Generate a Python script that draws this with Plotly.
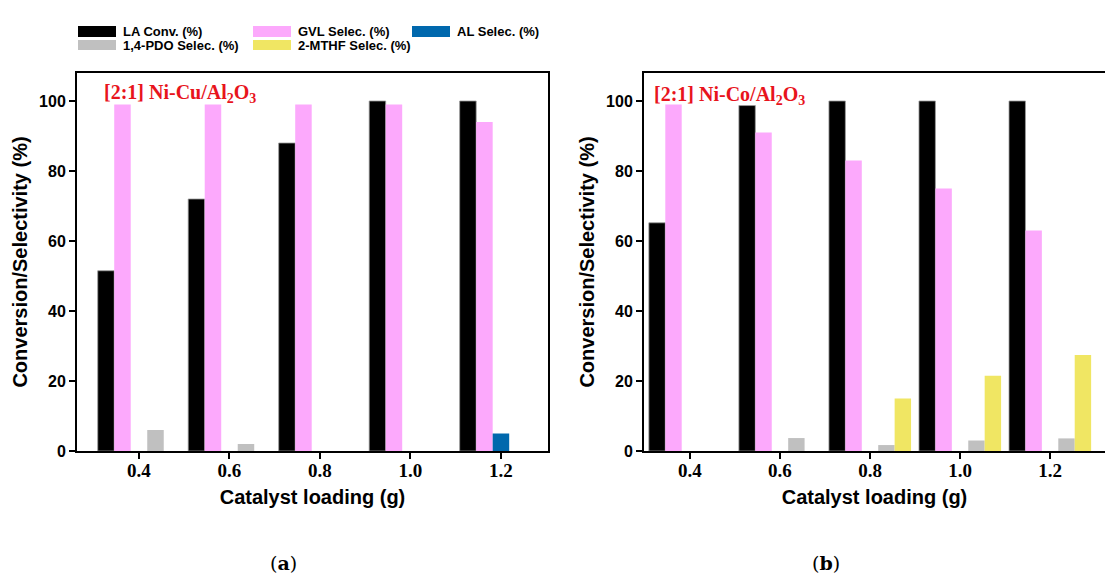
import plotly.graph_objects as go

W, H = 1105, 576

loading = [0.4, 0.6, 0.8, 1.0, 1.2]
tick_text = ["0.4", "0.6", "0.8", "1.0", "1.2"]
series_names = ["LA Conv. (%)", "GVL Selec. (%)", "AL Selec. (%)", "1,4-PDO Selec. (%)", "2-MTHF Selec. (%)"]
series_colors = ["#000000", "#FCA9FC", "#0068AD", "#C0C0C0", "#F0E663"]

# Panel (a): [2:1] Ni-Cu/Al2O3
cu_la = [51.5, 72, 88, 100, 100]
cu_gvl = [99, 99, 99, 99, 94]
cu_al = [0, 0, 0, 0, 5]
cu_pdo = [6, 2, 0, 0, 0]
cu_mthf = [0, 0, 0, 0, 0]

# Panel (b): [2:1] Ni-Co/Al2O3
co_la = [65.2, 98.7, 100, 100, 100]
co_gvl = [99, 91, 83, 75, 63]
co_al = [0, 0, 0, 0, 0]
co_pdo = [0, 3.7, 1.7, 3.0, 3.6]
co_mthf = [0, 0, 15, 21.5, 27.4]

panel_a = [cu_la, cu_gvl, cu_al, cu_pdo, cu_mthf]
panel_b = [co_la, co_gvl, co_al, co_pdo, co_mthf]

fig = go.Figure()
for panel, xa, ya in [(panel_a, "x", "y"), (panel_b, "x2", "y2")]:
    for name, color, vals in zip(series_names, series_colors, panel):
        fig.add_trace(go.Bar(
            x=loading, y=vals, name=name, xaxis=xa, yaxis=ya,
            marker=dict(color=color,
                        line=dict(color="#9a9a9a" if color == "#000000" else color,
                                  width=0.8 if color == "#000000" else 0)),
            showlegend=False,
        ))

def px(x):
    return x / W

def py(y):
    return 1 - y / H

ydom = [py(451), py(73)]
tickfont_x = dict(family="Liberation Serif", size=19, color="black")
tickfont_y = dict(family="Liberation Sans", size=16, color="black")
titlefont = dict(family="Liberation Sans", size=20, color="black")

common_x = dict(tickvals=loading, ticktext=[f"<b>{t}</b>" for t in tick_text],
                showline=True, linewidth=2, linecolor="black", ticks="outside",
                ticklen=6, tickwidth=2, tickcolor="black", showgrid=False,
                zeroline=False, tickfont=tickfont_x, automargin=False,
                ticklabelstandoff=-5,
                title=dict(text="<b>Catalyst loading (g)</b>", font=titlefont, standoff=10))
common_y = dict(range=[0, 108], tickvals=[0, 20, 40, 60, 80, 100],
                ticktext=["<b>%d</b>" % v for v in [0, 20, 40, 60, 80, 100]],
                showline=True, linewidth=2, linecolor="black", ticks="outside",
                ticklen=6, tickwidth=2, tickcolor="black", showgrid=False,
                zeroline=False, tickfont=tickfont_y, domain=ydom, automargin=False,
                title=dict(text="<b>Conversion/Selectivity (%)</b>", font=titlefont, standoff=6))

fig.update_layout(
    width=W, height=H,
    margin=dict(l=0, r=0, t=0, b=0, autoexpand=False),
    paper_bgcolor="white", plot_bgcolor="white",
    barmode="group", bargap=0.088, bargroupgap=0,
    xaxis=dict(domain=[px(77), px(548)], range=[0.263, 1.304], anchor="y",
               mirror=True, **common_x),
    yaxis=dict(anchor="x", mirror=True, **common_y),
    xaxis2=dict(domain=[px(644), 1.0], range=[0.298, 1.322], anchor="y2",
                mirror=True, **common_x),
    yaxis2=dict(anchor="x2", mirror=False, **common_y),
)

# Panel labels
fig.add_annotation(x=px(102), y=py(93), xref="paper", yref="paper", xanchor="left",
                   yanchor="middle", showarrow=False,
                   text="<b>[2:1] Ni-Cu/Al<sub>2</sub>O<sub>3</sub></b>",
                   font=dict(family="Liberation Serif", size=20, color="#E8141C"))
fig.add_annotation(x=px(652), y=py(95), xref="paper", yref="paper", xanchor="left",
                   yanchor="middle", showarrow=False,
                   text="<b>[2:1] Ni-Co/Al<sub>2</sub>O<sub>3</sub></b>",
                   font=dict(family="Liberation Serif", size=20, color="#E8141C"))
fig.add_annotation(x=px(268), y=py(563), xref="paper", yref="paper", showarrow=False,
                   yanchor="middle",
                   text="(<b>a</b>)", font=dict(family="DejaVu Serif", size=19, color="black"))
fig.add_annotation(x=px(842), y=py(563), xref="paper", yref="paper", showarrow=False,
                   yanchor="middle",
                   text="(<b>b</b>)", font=dict(family="DejaVu Serif", size=19, color="black"))

# Legend drawn as wide patches with text
legend_pos = [(78, 26, 37), (253, 26, 37), (412, 26, 37), (78, 40, 50), (253, 40, 50)]
for name, color, (lx, y0, y1) in zip(series_names, series_colors, legend_pos):
    fig.add_shape(type="rect", xref="paper", yref="paper",
                  x0=px(lx), x1=px(lx + 38), y0=py(y1), y1=py(y0),
                  fillcolor=color, line=dict(width=0))
    fig.add_annotation(x=px(lx + 43), y=py((y0 + y1) / 2), xref="paper", yref="paper",
                       xanchor="left", yanchor="middle", showarrow=False,
                       text="<b>%s</b>" % name,
                       font=dict(family="Liberation Sans", size=13, color="black"))

fig.write_html("out.html")
